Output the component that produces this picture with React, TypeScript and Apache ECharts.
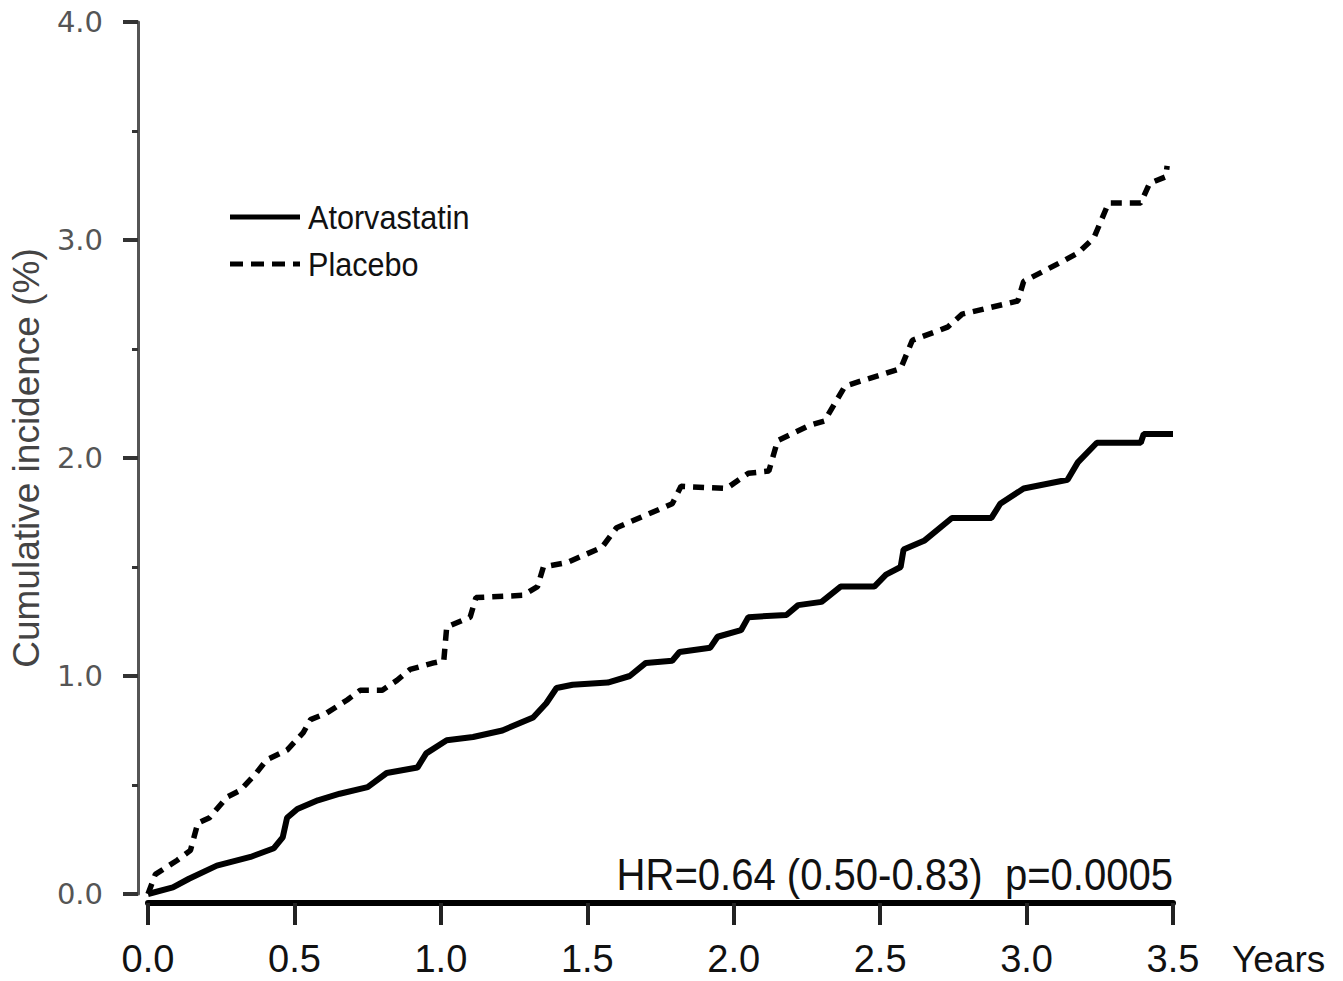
import React, { useEffect, useRef } from "react";
import * as echarts from "echarts";

// Atorvastatin cumulative incidence (%) vs years
const atorvastatinYears = [0, 0.085, 0.14, 0.235, 0.35, 0.43, 0.46, 0.475, 0.51, 0.58, 0.655, 0.75, 0.815, 0.92, 0.95, 1.02, 1.11, 1.21, 1.315, 1.36, 1.395, 1.45, 1.57, 1.645, 1.7, 1.79, 1.815, 1.92, 1.945, 2.025, 2.05, 2.18, 2.22, 2.3, 2.365, 2.48, 2.52, 2.57, 2.58, 2.65, 2.745, 2.88, 2.91, 2.99, 3.14, 3.175, 3.24, 3.39, 3.4, 3.5];
const atorvastatinPct = [0, 0.03, 0.07, 0.13, 0.17, 0.21, 0.26, 0.35, 0.39, 0.43, 0.46, 0.49, 0.555, 0.58, 0.645, 0.705, 0.72, 0.75, 0.81, 0.875, 0.945, 0.96, 0.97, 1.0, 1.06, 1.07, 1.11, 1.13, 1.18, 1.21, 1.27, 1.28, 1.325, 1.34, 1.41, 1.41, 1.465, 1.5, 1.58, 1.62, 1.725, 1.725, 1.79, 1.86, 1.9, 1.98, 2.07, 2.07, 2.11, 2.11];

// Placebo cumulative incidence (%) vs years
const placeboYears = [0, 0.025, 0.1, 0.145, 0.17, 0.21, 0.27, 0.315, 0.37, 0.405, 0.475, 0.53, 0.555, 0.61, 0.68, 0.725, 0.8, 0.85, 0.895, 0.975, 1.01, 1.02, 1.1, 1.12, 1.28, 1.33, 1.35, 1.43, 1.55, 1.6, 1.79, 1.82, 1.975, 2.05, 2.12, 2.15, 2.26, 2.31, 2.38, 2.57, 2.61, 2.73, 2.78, 2.97, 2.99, 3.12, 3.175, 3.23, 3.28, 3.39, 3.42, 3.475, 3.48];
const placeboPct = [0, 0.09, 0.155, 0.2, 0.325, 0.35, 0.445, 0.475, 0.555, 0.615, 0.66, 0.74, 0.8, 0.83, 0.89, 0.935, 0.935, 0.98, 1.03, 1.06, 1.07, 1.225, 1.27, 1.36, 1.37, 1.41, 1.5, 1.52, 1.59, 1.68, 1.79, 1.87, 1.86, 1.93, 1.94, 2.08, 2.15, 2.17, 2.33, 2.41, 2.54, 2.6, 2.66, 2.72, 2.81, 2.9, 2.94, 3.01, 3.17, 3.17, 3.26, 3.29, 3.34];

const seriesNames = ["Atorvastatin", "Placebo"];
const xAxisName = "Years";
const yAxisName = "Cumulative incidence (%)";
const statText = "HR=0.64 (0.50-0.83)  p=0.0005";

const SANS = "'Liberation Sans', Arial, Helvetica, sans-serif";

export default function App() {
  const ref = useRef<HTMLDivElement>(null);

  useEffect(() => {
    if (!ref.current) return;
    const chart = echarts.init(ref.current, null, { renderer: "svg" });

    const legendText = (text: string, y: number) => ({
      type: "text",
      x: 308,
      y,
      scaleX: 0.9,
      style: { text, fontSize: 34, fontFamily: SANS, fill: "#111", align: "left", verticalAlign: "middle" },
    });

    chart.setOption({
      animation: false,
      backgroundColor: "#ffffff",
      grid: { left: 148, right: 170, top: 22, bottom: 87, containLabel: false },
      xAxis: {
        type: "value",
        min: 0,
        max: 3.5,
        interval: 0.5,
        offset: 9,
        name: xAxisName,
        nameLocation: "end",
        nameGap: 59,
        nameTextStyle: {
          fontSize: 37,
          fontFamily: SANS,
          color: "#111",
          align: "left",
          verticalAlign: "top",
          lineHeight: 36,
          padding: [38, 0, 0, 0],
        },
        axisLine: { show: true, onZero: false, lineStyle: { color: "#000", width: 6 } },
        axisTick: { show: true, length: 22, lineStyle: { color: "#222", width: 4 } },
        axisLabel: {
          margin: 38,
          fontSize: 38,
          lineHeight: 36,
          fontFamily: SANS,
          color: "#111",
          formatter: (v: number) => v.toFixed(1),
        },
        splitLine: { show: false },
      },
      yAxis: {
        type: "value",
        min: 0,
        max: 4,
        interval: 1,
        offset: 10,
        name: yAxisName,
        nameLocation: "middle",
        nameGap: 93,
        nameRotate: 90,
        nameTextStyle: { fontSize: 37, fontFamily: SANS, color: "#444" },
        axisLine: { show: true, onZero: false, lineStyle: { color: "#555", width: 3 } },
        axisTick: { show: true, length: 15, lineStyle: { color: "#333", width: 4 } },
        minorTick: { show: true, splitNumber: 2, length: 6, lineStyle: { color: "#333", width: 3 } },
        axisLabel: {
          margin: 35,
          fontSize: 29,
          fontFamily: "'DejaVu Sans', sans-serif",
          color: "#555",
          formatter: (v: number) => v.toFixed(1),
        },
        splitLine: { show: false },
        minorSplitLine: { show: false },
      },
      graphic: [
        {
          type: "line",
          shape: { x1: 230, y1: 217, x2: 300, y2: 217 },
          style: { stroke: "#000", lineWidth: 5 },
        },
        {
          type: "line",
          shape: { x1: 230, y1: 264, x2: 300, y2: 264 },
          style: { stroke: "#000", lineWidth: 5, lineDash: [13, 8] },
        },
        legendText(seriesNames[0], 217),
        legendText(seriesNames[1], 264),
        {
          type: "text",
          x: 1173,
          y: 874,
          scaleX: 0.89,
          style: {
            text: statText,
            fontSize: 45,
            fontFamily: SANS,
            fill: "#111",
            align: "right",
            verticalAlign: "middle",
          },
        },
      ],
      series: [
        {
          name: seriesNames[0],
          type: "line",
          symbol: "none",
          showSymbol: false,
          data: atorvastatinYears.map((t, i) => [t, atorvastatinPct[i]]),
          lineStyle: { color: "#000", width: 6 },
          itemStyle: { color: "#000" },
        },
        {
          name: seriesNames[1],
          type: "line",
          symbol: "none",
          showSymbol: false,
          data: placeboYears.map((t, i) => [t, placeboPct[i]]),
          lineStyle: { color: "#000", width: 5.5, type: [11, 8] },
          itemStyle: { color: "#000" },
        },
      ],
    });
    return () => chart.dispose();
  }, []);

  return (
    <div
      ref={ref}
      style={{ position: "absolute", left: 0, top: 0, width: 1343, height: 981, background: "#fff" }}
    />
  );
}
